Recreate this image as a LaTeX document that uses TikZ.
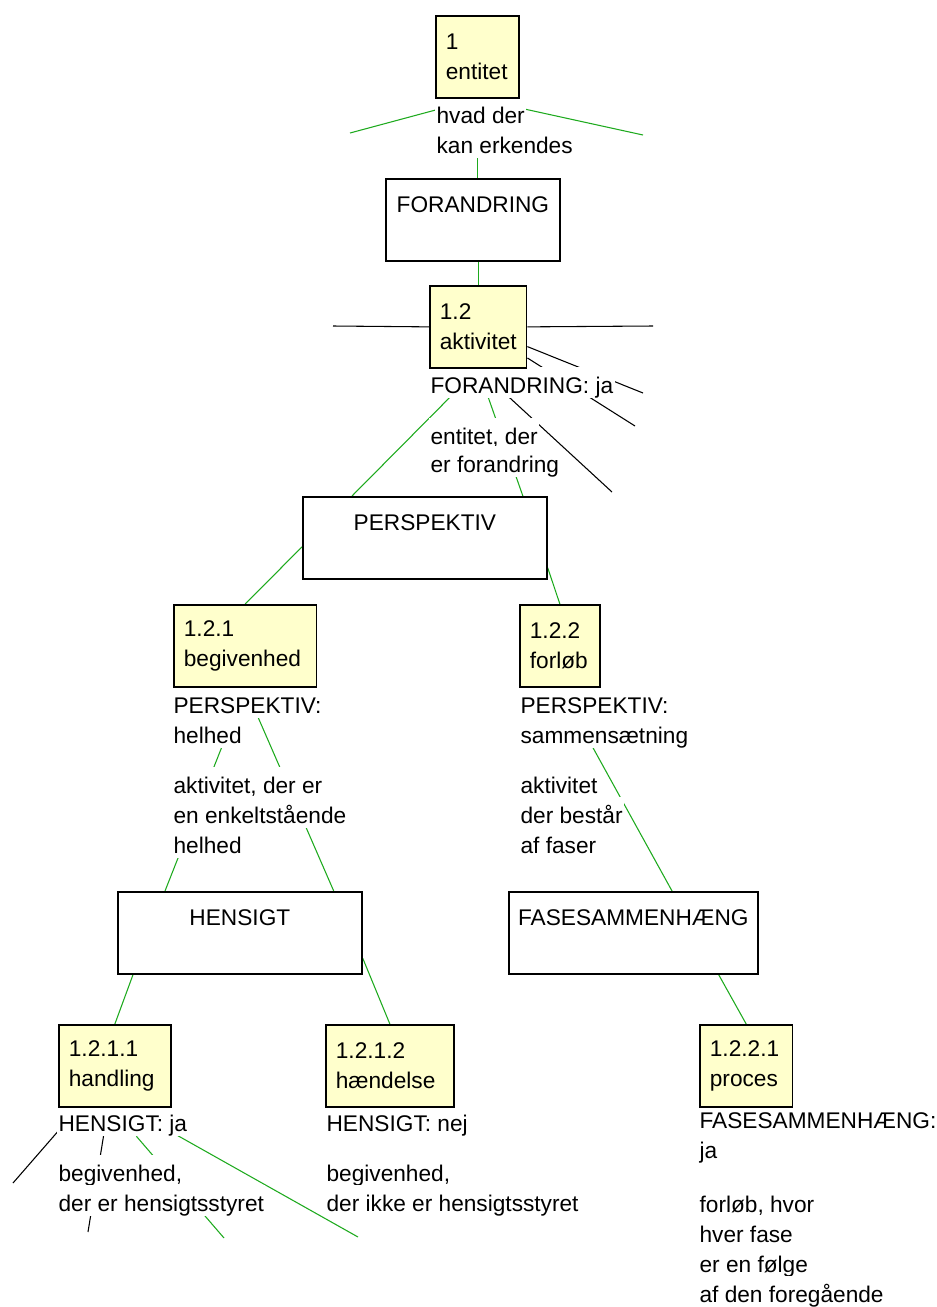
\documentclass[tikz,border=0pt]{standalone}
\usepackage{fontspec}
\setmainfont{Liberation Sans}
\usepackage{tikz}
\usetikzlibrary{backgrounds}
\definecolor{boxyellow}{RGB}{255,255,204}
\definecolor{linkgreen}{RGB}{30,170,30}
\tikzstyle{block} = [rectangle, draw, line width=1.3pt, fill=boxyellow, align=left,
                     anchor=north west, inner xsep=7.5pt, minimum height=61.5pt]
\tikzstyle{concept} = [rectangle, draw, line width=1.3pt, fill=white, align=center,
                       anchor=north west, minimum height=61.5pt]
\tikzstyle{txt} = [fill=white, anchor=base west, inner xsep=1pt, inner ysep=0pt,
                   text height=19.5pt, text depth=3.75pt]
\tikzstyle{link} = [draw, linkgreen, line width=0.8pt]
\tikzstyle{line} = [draw, black, line width=0.8pt]

\begin{document}
\begin{tikzpicture}[x=0.75pt, y=-0.75pt, font=\fontsize{17}{22.5}\selectfont]
\useasboundingbox (0,0) rectangle (936,1307);

% tekster
\node [txt] (entdef1) at (435,123) {hvad der};
\node [txt] (entdef2) at (435,153) {kan erkendes};
\node [txt] (aktval) at (429,393) {FORANDRING: ja};
\node [txt] (aktdef1) at (429,444) {entitet, der};
\node [txt] (aktdef2) at (429,472) {er forandring};
\node [txt] (begval1) at (172,713) {PERSPEKTIV:};
\node [txt] (begval2) at (172,743) {helhed};
\node [txt] (begdef1) at (172,793) {aktivitet, der er};
\node [txt] (begdef2) at (172,823) {en enkeltstående};
\node [txt] (begdef3) at (172,853) {helhed};
\node [txt] (forval1) at (519,713) {PERSPEKTIV:};
\node [txt] (forval2) at (519,743) {sammensætning};
\node [txt] (fordef1) at (519,793) {aktivitet};
\node [txt] (fordef2) at (519,823) {der består};
\node [txt] (fordef3) at (519,853) {af faser};
\node [txt] (handval) at (57,1131) {HENSIGT: ja};
\node [txt] (handdef1) at (57,1181) {begivenhed,};
\node [txt] (handdef2) at (57,1211) {der er hensigtsstyret};
\node [txt] (haendval) at (325,1131) {HENSIGT: nej};
\node [txt] (haenddef1) at (325,1181) {begivenhed,};
\node [txt] (haenddef2) at (325,1211) {der ikke er hensigtsstyret};
\node [txt] (procval1) at (698,1128) {FASESAMMENHÆNG:};
\node [txt] (procval2) at (698,1158) {ja};
\node [txt] (procdef1) at (698,1212) {forløb, hvor};
\node [txt] (procdef2) at (698,1242) {hver fase};
\node [txt] (procdef3) at (698,1272) {er en følge};
\node [txt] (procdef4) at (698,1302) {af den foregående};

% klasser
\node [block, text width=47.5pt] (ent) at (435,15) {1\\entitet};
\node [block, text width=57.5pt] (akt) at (429,285) {1.2\\aktivitet};
\node [block, text width=92pt] (beg) at (173,604) {1.2.1\\begivenhed};
\node [block, text width=45pt] (forl) at (519,604) {1.2.2\\forløb};
\node [block, text width=69pt] (hand) at (58,1024) {1.2.1.1\\handling};
\node [block, text width=81pt] (haend) at (325,1024) {1.2.1.2\\hændelse};
\node [block, text width=54.5pt] (proc) at (699,1024) {1.2.2.1\\proces};

% kriterier
\node [concept, minimum width=130.5pt] (forand) at (385,178) {FORANDRING\\~};
\node [concept, minimum width=183pt] (persp) at (302,496) {PERSPEKTIV\\~};
\node [concept, minimum width=183pt] (hen) at (117,891) {HENSIGT\\~};
\node [concept, minimum width=186.75pt] (fase) at (508,891) {FASESAMMENHÆNG\\~};

% løse ender
\coordinate (entL) at (350,133);
\coordinate (entR) at (643,135);
\coordinate (aktW) at (333,326);
\coordinate (aktE) at (653,326);
\coordinate (akt1) at (643,393);
\coordinate (akt2) at (635,426);
\coordinate (akt3) at (612,492);
\coordinate (hand1) at (13,1183);
\coordinate (hand2) at (88,1232);
\coordinate (hand3) at (224,1238);
\coordinate (hand4) at (358,1237);

\begin{scope}[on background layer]
\path [link] (ent.south) -- (ent.south |- forand.north);
\path [link] (ent.south) -- (entL);
\path [link] (ent.south) -- (entR);
\path [link] (akt.north |- forand.south) -- (akt.north);
\path [line] (akt.west) -- (aktW);
\path [line] (akt.east) -- (aktE);
\path [line] (akt) -- (akt1);
\path [line] (akt) -- (akt2);
\path [line] (akt.south) -- (akt3);
\path [link] (akt.south) -- ([xshift=37.5pt]persp.north west);
\path [link] (akt.south) -- ([xshift=73.5pt]persp.north);
\path [link] ([yshift=-6.75pt]persp.west) -- (beg.north);
\path [link] ([yshift=-22.5pt]persp.east) -- (forl.north);
\path [link] (beg.south) -- ([xshift=36pt]hen.north west);
\path [link] (beg.south) -- ([xshift=-21.75pt]hen.north east);
\path [link] (forl.south) -- ([xshift=29pt]fase.north);
\path [link] ([xshift=12pt]hen.south west) -- (hand.north);
\path [link] ([yshift=-19pt]hen.east) -- (haend.north);
\path [link] ([xshift=64pt]fase.south) -- (proc.north);
\path [line] (hand) -- (hand1);
\path [line] (hand) -- (hand2);
\path [link] (handval) -- (hand3);
\path [link] (handval.north) -- (hand4);
\end{scope}

\end{tikzpicture}
\end{document}
